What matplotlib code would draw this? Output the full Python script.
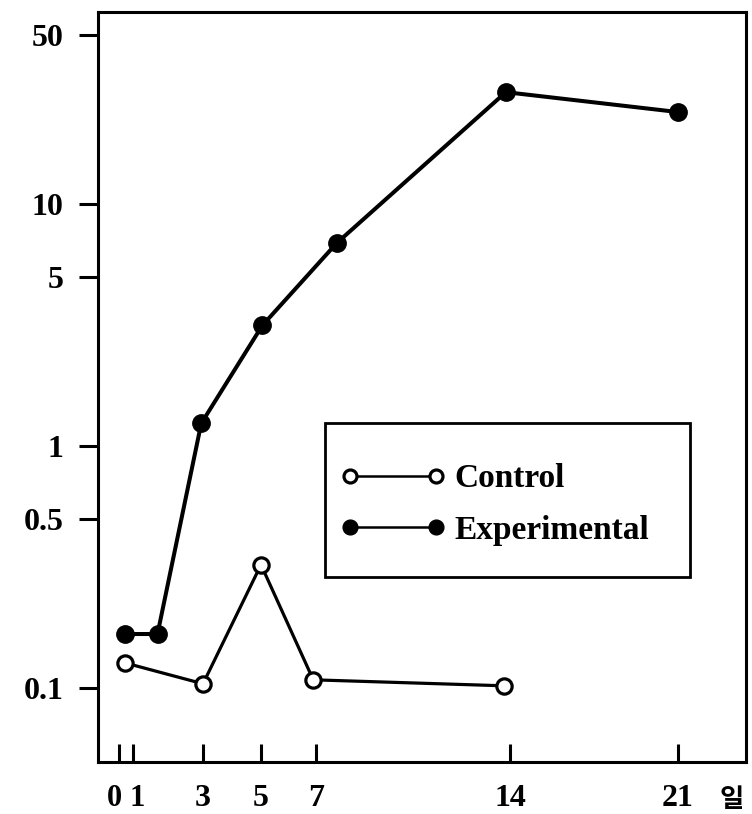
import numpy as np
import matplotlib
matplotlib.use("Agg")
import matplotlib.pyplot as plt
from matplotlib.patches import Rectangle
from matplotlib.transforms import ScaledTranslation

# ---- data ----
tick_days = [0, 1, 3, 5, 7, 14, 21]
tick_labels = ["0", "1", "3", "5", "7", "14", "21"]
ytick_vals = [0.1, 0.5, 1, 5, 10, 50]
ytick_labels = ["0.1", "0.5", "1", "5", "10", "50"]

ctrl_days = [0.4, 3, 5, 6.9, 13.8]
ctrl_vals = [0.127, 0.104, 0.323, 0.108, 0.102]

exp_days = [0.4, 1.7, 2.95, 5.05, 7.75, 13.85, 21]
exp_vals = [0.167, 0.167, 1.24, 3.15, 6.9, 29.0, 24.0]

unit_label = "일"

# ---- hand-drawn (non-uniform) day axis ----
knot_days = np.array([-40.0, -1.5, 0, 1, 3, 5, 7, 14, 21, 23.83, 60.0])
knot_pos = np.array([98 - 38.5 * 14, 98, 119, 133, 203, 261, 316, 510, 678, 746, 746 + 36.17 * 24])


def fwd(x):
    return np.interp(x, knot_days, knot_pos)


def inv(p):
    return np.interp(p, knot_pos, knot_days)


fig = plt.figure(figsize=(7.52, 8.14), dpi=100)
ax = fig.add_axes([98 / 752, 1 - 762 / 814, (746 - 98) / 752, (762 - 12) / 814])

ax.set_yscale("log")
ax.set_xscale("function", functions=(fwd, inv))
ax.set_xlim(-1.5, 23.83)
ax.set_ylim(0.0494, 62.2)

ax.plot(ctrl_days, ctrl_vals, color="black", lw=2.3, marker="o", ms=11,
        mfc="white", mec="black", mew=2.3, label="Control", zorder=3)
ax.plot(exp_days, exp_vals, color="black", lw=2.9, marker="o", ms=12.5,
        mfc="black", mec="black", label="Experimental", zorder=3)

ax.set_xticks(tick_days)
ax.set_xticklabels(tick_labels)
ax.set_yticks(ytick_vals)
ax.set_yticklabels(ytick_labels)
ax.yaxis.set_minor_locator(matplotlib.ticker.NullLocator())
ax.xaxis.set_minor_locator(matplotlib.ticker.NullLocator())

ax.tick_params(axis="x", direction="in", length=13, width=2.2, pad=16)
ax.tick_params(axis="y", direction="out", length=14, width=2.2, pad=11)
for lab in ax.get_xticklabels() + ax.get_yticklabels():
    lab.set_fontfamily("Liberation Serif")
    lab.set_fontweight("bold")
    lab.set_fontsize(23)

# the crowded "0" and "1" labels sit to either side of their ticks
xlabs = ax.get_xticklabels()
xlabs[0].set_horizontalalignment("right")
xlabs[0].set_fontsize(22)
xlabs[0].set_transform(xlabs[0].get_transform() + ScaledTranslation(3 / 100, 0, fig.dpi_scale_trans))
xlabs[1].set_horizontalalignment("left")
xlabs[1].set_fontsize(22)
xlabs[1].set_transform(xlabs[1].get_transform() + ScaledTranslation(-3 / 100, 0, fig.dpi_scale_trans))

for sp in ax.spines.values():
    sp.set_linewidth(2.2)

ax.annotate(unit_label, xy=(21, 0), xycoords=("data", "axes fraction"),
            xytext=(30, -17), textcoords="offset points", ha="left", va="top",
            fontsize=19, fontfamily="Noto Sans CJK KR", fontweight="bold")

# legend box
ax.add_patch(Rectangle((0.350, 0.247), 0.564, 0.205, transform=ax.transAxes,
                       fill=False, edgecolor="black", lw=2.0, zorder=4))
leg = ax.legend(loc="center left", bbox_to_anchor=(0.373, 0.343), frameon=False,
                borderpad=0, labelspacing=0.62, handlelength=3.2,
                handletextpad=0.25, numpoints=2, borderaxespad=0,
                prop={"family": "Liberation Serif", "weight": "bold", "size": 24},
                markerscale=0.85)
for line in leg.get_lines():
    line.set_linewidth(1.8)

fig.savefig("out.png", dpi=100)
